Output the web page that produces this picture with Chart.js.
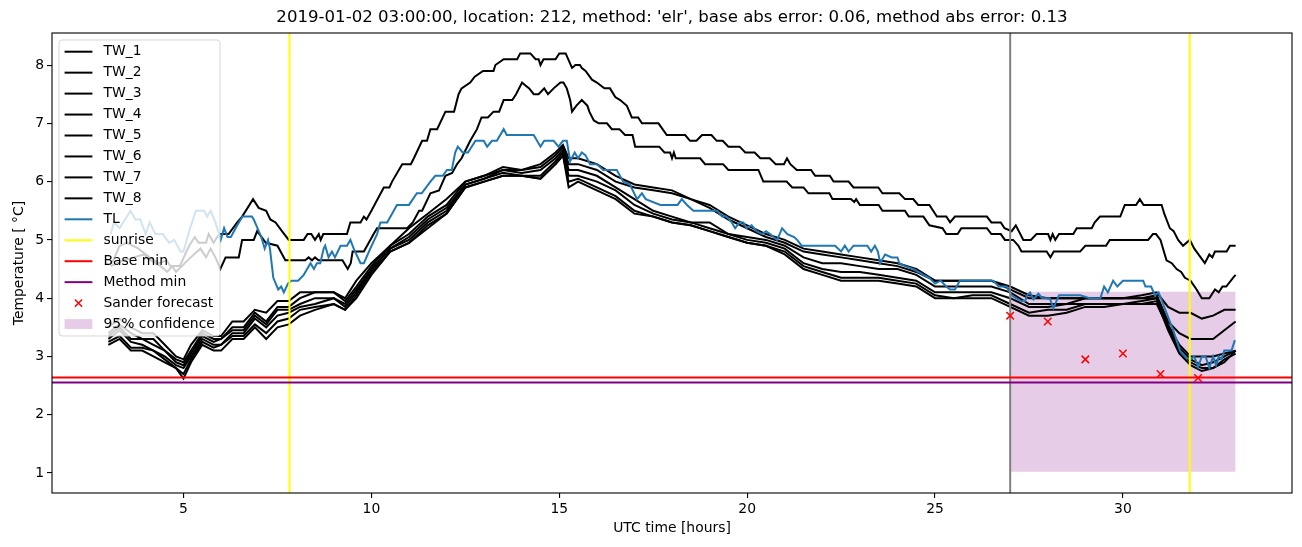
<!DOCTYPE html>
<html><head><meta charset="utf-8">
<script src="https://cdn.jsdelivr.net/npm/chart.js@4/dist/chart.umd.min.js"></script>
<style>html,body{margin:0;padding:0;background:#fff;}#wrap{width:1302px;height:547px;}</style>
</head><body><div id="wrap"><canvas id="c" width="1302" height="547"></canvas></div>
<script>
// ---------------- data ----------------
const titleText = "2019-01-02 03:00:00, location: 212, method: 'elr', base abs error: 0.06, method abs error: 0.13";
const xTicks = [5, 10, 15, 20, 25, 30];
const yTicks = [1, 2, 3, 4, 5, 6, 7, 8];
const X_MIN = 1.5, X_MAX = 34.5, Y_MIN = 0.657, Y_MAX = 8.55;

const tw1Hours = [3.1,3.3,3.5,3.8,4.1,4.35,4.55,4.65,4.9,5.15,5.3,5.4,5.6,5.67,5.8,5.95,6.2,6.43,6.56,6.85,7.0,7.2,7.31,7.45,7.62,7.8,8.2,8.3,8.4,8.5,8.6,8.65,8.72,9.35,9.44,9.71,9.8,9.87,10.0,10.33,10.48,10.55,10.82,11.05,11.13,11.35,11.48,11.57,11.75,11.97,12.2,12.32,12.4,12.63,12.75,12.97,13.25,13.3,13.52,13.88,13.96,14.23,14.37,14.45,14.5,14.58,14.9,15.0,15.17,15.34,15.43,15.55,15.6,15.7,15.87,16.0,16.2,16.35,16.49,16.62,16.8,16.93,17.1,17.2,17.64,17.86,18.35,18.48,18.65,18.8,19.05,19.19,19.35,19.5,19.8,19.95,20.2,20.35,20.6,20.76,20.98,21.06,21.15,21.32,21.7,21.81,22.2,22.3,22.7,22.83,23.49,23.6,24.05,24.2,24.42,24.55,24.85,25.05,25.3,25.4,25.53,26.38,26.5,26.75,26.85,27.04,27.15,27.35,27.55,27.7,28.01,28.07,28.13,28.2,28.3,28.68,28.77,29.17,29.25,29.39,29.93,30.05,30.35,30.45,30.55,31.03,31.1,31.25,31.35,31.47,31.6,31.78,31.9,32.18,32.3,32.38,32.45,32.76,32.85,33.0];
const tw1Temps = [4.6,4.9,4.95,4.85,4.7,4.6,4.65,4.55,4.55,4.9,5.05,4.95,4.95,5.1,4.95,5.1,5.1,5.3,5.4,5.7,5.55,5.5,5.35,5.3,5.15,5.0,5.0,5.1,5.1,5.0,5.1,5.0,5.1,5.1,5.3,5.3,5.4,5.35,5.5,5.9,5.9,6.0,6.3,6.3,6.4,6.7,6.7,6.9,6.9,7.2,7.2,7.5,7.6,7.7,7.8,7.9,7.9,8.0,8.1,8.1,8.2,8.2,8.1,8.1,8.0,8.1,8.1,8.2,8.2,7.95,8.0,8.0,7.95,7.9,7.75,7.7,7.6,7.6,7.45,7.4,7.3,7.1,7.1,7.0,7.0,6.8,6.8,6.7,6.7,6.8,6.8,6.7,6.7,6.6,6.6,6.5,6.5,6.4,6.4,6.3,6.3,6.4,6.3,6.2,6.2,6.1,6.1,6.0,6.0,5.9,5.9,5.8,5.8,5.7,5.7,5.6,5.6,5.4,5.4,5.3,5.4,5.4,5.3,5.3,5.2,5.15,5.25,5.0,5.0,5.1,5.1,5.0,5.1,5.0,5.1,5.1,5.2,5.2,5.3,5.4,5.4,5.6,5.6,5.7,5.6,5.6,5.45,5.2,5.15,5.0,4.9,5.0,4.85,4.6,4.75,4.7,4.8,4.8,4.9,4.9];

const tw2Hours = [3.06,3.4,3.68,3.94,4.12,4.39,4.57,4.7,4.8,5.19,5.45,5.6,5.72,5.85,5.98,6.12,6.47,6.56,6.87,6.96,7.19,7.5,7.71,8.24,8.33,8.42,8.5,8.59,9.23,9.37,9.45,9.5,9.8,10.06,10.15,10.95,11.1,11.27,11.35,11.57,11.8,11.97,12.15,12.28,12.4,12.63,12.81,12.93,13.1,13.25,13.4,13.52,13.75,13.85,14.01,14.1,14.2,14.32,14.45,14.6,14.7,14.85,15.03,15.11,15.2,15.29,15.34,15.45,15.6,15.75,15.8,15.92,16.05,16.27,16.4,16.6,16.75,16.95,17.02,17.66,17.8,17.95,18.0,18.05,18.1,18.75,18.88,19.36,19.5,20.3,20.43,21.05,21.2,21.5,21.63,22.19,22.27,22.76,22.85,22.9,23.0,23.5,23.6,24.2,24.3,24.69,24.85,25.2,25.3,25.6,25.7,26.38,26.5,26.75,26.86,27.08,27.22,27.3,27.97,28.07,28.16,28.86,29.0,29.55,29.65,30.67,30.8,30.88,31.0,31.16,31.3,31.43,31.55,31.65,31.8,31.96,32.1,32.3,32.45,32.55,32.65,32.75,32.93,33.0];
const tw2Temps = [4.55,4.65,4.7,4.75,4.65,4.55,4.45,4.55,4.45,4.7,4.85,4.7,4.85,4.7,4.5,4.7,4.7,5.0,5.0,5.15,4.95,4.9,4.65,4.65,4.7,4.65,4.7,4.65,4.65,4.5,4.6,4.8,4.8,5.1,5.2,5.2,5.3,5.5,5.5,5.8,5.85,6.1,6.15,6.3,6.4,6.7,6.9,7.1,7.1,7.2,7.2,7.4,7.4,7.5,7.7,7.65,7.6,7.5,7.5,7.6,7.5,7.6,7.7,7.7,7.6,7.4,7.2,7.3,7.4,7.3,7.2,7.05,7.0,7.0,6.9,6.9,6.8,6.8,6.6,6.6,6.5,6.5,6.4,6.5,6.4,6.4,6.3,6.3,6.2,6.2,6.0,6.0,5.9,5.9,5.8,5.8,5.7,5.7,5.65,5.7,5.6,5.6,5.5,5.5,5.4,5.4,5.25,5.2,5.1,5.1,5.2,5.2,5.1,5.1,5.0,5.0,4.9,4.8,4.8,4.7,4.8,4.8,4.9,4.9,5.0,5.0,5.1,5.1,5.0,4.65,4.6,4.5,4.45,4.35,4.3,4.15,4.0,4.0,4.15,4.1,4.2,4.2,4.35,4.4];

const clusterHours = [3,3.3,3.6,3.9,4.2,4.5,4.8,5.0,5.2,5.5,5.8,6.0,6.3,6.6,6.9,7.2,7.5,7.8,8.1,8.5,9.0,9.3,9.6,10.0,10.5,11.0,11.5,12.0,12.5,13.0,13.5,14.0,14.5,14.9,15.1,15.25,15.5,16.0,16.5,17.0,17.5,18.0,18.5,19.0,19.5,20.0,20.5,21.0,21.5,22.0,22.5,23.0,23.5,24.0,24.5,25.0,25.5,26.0,26.5,27.0,27.5,28.0,28.5,29.0,29.5,30.0,30.5,30.9,31.2,31.5,31.8,32.1,32.4,32.7,33.0];
const tw3Temps = [3.5,3.65,3.5,3.4,3.4,3.2,3.0,2.95,3.2,3.45, 3.35,3.35,3.6,3.6,3.8,3.75,3.95,3.95,4.1,4.1, 4.1,4.0,4.3,4.6,4.9,5.2,5.45,5.7,6.0,6.1, 6.25,6.2,6.3,6.5,6.63,6.4,6.4,6.3,6.1,5.95, 5.9,5.85,5.7,5.6,5.4,5.25,5.1,5.0,4.85,4.8, 4.75,4.7,4.65,4.6,4.5,4.3,4.3,4.3,4.3,4.2, 4.05,4.0,4.0,4.0,4.0,4.0,4.05,4.1,3.85,3.75, 3.75,3.65,3.7,3.8,3.8];
const tw4Temps = [3.4,3.55,3.4,3.3,3.3,3.1,2.95,2.9,3.1,3.4, 3.3,3.3,3.5,3.5,3.75,3.6,3.85,3.85,4.0,4.1, 4.1,3.95,4.2,4.55,4.9,5.1,5.4,5.6,6.0,6.1, 6.2,6.2,6.25,6.45,6.6,6.3,6.3,6.2,6.0,5.9, 5.85,5.8,5.7,5.55,5.35,5.2,5.05,4.95,4.8,4.75, 4.7,4.65,4.6,4.55,4.45,4.3,4.3,4.3,4.3,4.15, 4.0,4.0,4.0,4.0,4.0,4.0,4.0,4.05,3.6,3.4, 3.3,3.3,3.3,3.45,3.6];
const tw5Temps = [3.35,3.5,3.3,3.3,3.2,3.1,2.9,2.85,3.05,3.35, 3.25,3.3,3.45,3.45,3.7,3.55,3.8,3.8,3.9,4.0, 4.0,3.9,4.15,4.5,4.85,5.05,5.35,5.55,5.95,6.05, 6.2,6.15,6.2,6.4,6.55,6.2,6.2,6.1,5.9,5.7, 5.5,5.4,5.3,5.3,5.1,5.05,5.0,4.9,4.7,4.6, 4.6,4.55,4.5,4.5,4.4,4.2,4.2,4.2,4.2,4.1, 3.9,3.9,3.9,4.0,4.0,4.0,4.0,4.0,3.55,3.2, 3.0,3.0,3.0,3.05,3.1];
const tw6Temps = [3.3,3.45,3.25,3.2,3.1,3.0,2.85,2.8,3.0,3.3, 3.2,3.2,3.4,3.4,3.65,3.5,3.7,3.75,3.85,3.9, 4.0,3.85,4.1,4.5,4.85,5.0,5.3,5.5,5.95,6.05, 6.15,6.1,6.1,6.35,6.5,6.1,6.1,6.0,5.85,5.6, 5.45,5.35,5.3,5.2,5.1,5.0,4.95,4.85,4.6,4.5, 4.45,4.45,4.4,4.35,4.3,4.1,4.1,4.1,4.1,4.0, 3.85,3.85,3.9,3.9,3.9,3.9,3.95,4.0,3.5,3.1, 2.9,2.8,2.8,2.9,3.1];
const tw7Temps = [3.25,3.35,3.15,3.15,3.1,2.95,2.8,2.7,2.95,3.25, 3.15,3.2,3.35,3.35,3.55,3.4,3.6,3.65,3.8,3.85, 3.9,3.8,4.05,4.45,4.8,4.95,5.25,5.45,5.9,6.0, 6.1,6.1,6.05,6.3,6.45,6.0,6.05,5.9,5.75,5.5, 5.4,5.3,5.25,5.15,5.05,4.95,4.9,4.8,4.55,4.45, 4.35,4.35,4.35,4.3,4.25,4.05,4.0,4.05,4.05,3.9, 3.75,3.8,3.8,3.9,3.9,3.9,3.9,3.95,3.45,3.05, 2.85,2.75,2.8,2.95,3.05];
const tw8Temps = [3.2,3.3,3.1,3.1,3.0,2.9,2.8,2.62,2.9,3.2, 3.1,3.1,3.3,3.3,3.5,3.3,3.5,3.55,3.7,3.8, 3.9,3.8,4.0,4.4,4.8,4.95,5.2,5.45,5.9,6.0, 6.1,6.1,6.05,6.3,6.45,5.9,6.0,5.85,5.7,5.45, 5.4,5.3,5.25,5.15,5.05,4.95,4.9,4.75,4.5,4.4, 4.3,4.3,4.3,4.25,4.2,4.0,4.0,4.0,4.0,3.85, 3.7,3.7,3.75,3.85,3.85,3.9,3.9,3.9,3.5,3.15, 2.95,2.85,2.9,3.0,3.1];

const tlHours = [3.06,3.15,3.3,3.59,3.72,3.85,3.99,4.1,4.25,4.45,4.62,4.75,4.92,5.0,5.15,5.33,5.55,5.63,5.72,5.85,5.99,6.08,6.17,6.26,6.43,6.57,6.82,6.87,7.07,7.16,7.25,7.3,7.39,7.52,7.6,7.67,7.78,7.87,8.05,8.2,8.29,8.38,8.47,8.55,8.64,8.73,8.77,8.86,8.95,9.03,9.18,9.35,9.44,9.53,9.71,9.8,9.97,10.15,10.24,10.42,10.55,10.68,11.0,11.21,11.34,11.57,11.7,11.9,12.01,12.14,12.23,12.3,12.43,12.57,12.77,12.99,13.08,13.21,13.34,13.52,13.6,14.32,14.5,14.6,14.85,14.98,15.1,15.2,15.29,15.41,15.5,15.6,15.7,15.82,16.0,16.17,16.53,16.7,16.88,17.07,17.2,17.3,17.69,18.15,18.26,18.4,18.57,19.2,19.33,19.45,19.59,19.68,19.8,19.9,19.98,20.12,20.25,20.4,20.5,20.61,20.7,20.8,20.93,21.07,21.25,21.33,21.45,22.34,22.5,22.6,22.7,22.83,23.2,23.3,23.4,23.48,23.54,23.67,23.85,24.0,24.05,24.2,24.42,24.69,24.85,25.0,25.15,25.3,25.4,25.53,25.66,26.55,26.7,26.9,27.04,27.15,27.3,27.4,27.45,27.53,27.62,27.75,27.85,28.05,28.15,28.3,28.86,29.12,29.4,29.5,29.6,29.74,29.85,30.0,30.54,30.6,30.75,30.85,30.95,31.16,31.34,31.52,31.7,31.8,31.9,32.0,32.1,32.2,32.3,32.4,32.48,32.55,32.62,32.7,32.89,32.98];
const tlTemps = [5.1,5.3,5.2,5.5,5.35,5.35,5.1,5.3,5.1,5.1,4.95,5.0,4.8,4.8,5.15,5.5,5.5,5.4,5.5,5.3,5.0,5.2,5.05,5.05,5.25,5.4,5.4,5.35,5.05,4.85,5.0,4.85,4.35,4.15,4.2,4.1,4.25,4.3,4.3,4.4,4.5,4.6,4.5,4.6,4.6,4.85,4.9,4.7,4.8,4.7,4.9,4.9,5.0,4.85,4.6,4.6,4.85,5.1,5.3,5.3,5.45,5.6,5.6,5.8,5.8,6.0,6.1,6.1,6.2,6.2,6.5,6.6,6.5,6.5,6.7,6.7,6.6,6.7,6.7,6.9,6.8,6.8,6.6,6.7,6.7,6.6,6.7,6.7,6.35,6.5,6.4,6.5,6.45,6.3,6.3,6.2,6.2,6.0,5.95,5.7,5.8,5.7,5.6,5.6,5.7,5.6,5.5,5.5,5.4,5.4,5.3,5.2,5.3,5.3,5.2,5.25,5.15,5.1,5.15,5.1,5.05,5.0,5.2,5.1,5.05,5.0,4.9,4.9,4.8,4.9,4.8,4.9,4.9,4.8,4.9,4.8,4.6,4.75,4.7,4.7,4.6,4.55,4.5,4.4,4.35,4.25,4.3,4.2,4.15,4.15,4.3,4.3,4.2,4.2,4.05,4.0,3.95,3.95,4.05,4.1,3.98,4.08,4.0,4.0,3.83,4.05,4.05,4.0,4.0,4.2,4.1,4.3,4.2,4.3,4.3,4.2,4.2,4.05,4.1,3.75,3.45,3.1,2.97,2.95,3.0,2.82,3.0,3.0,2.8,3.0,2.85,3.0,2.95,3.1,3.1,3.28];

const sunriseHours = [7.82, 31.78];
const nowHour = 27.0;
const baseMin = 2.64;
const methodMin = 2.555;
const sanderHours = [27, 28, 29, 30, 31, 32];
const sanderTemps = [3.7, 3.6, 2.95, 3.05, 2.7, 2.63];
const confHours = [27, 33];
const confUpper = [4.11, 4.11];
const confLower = [1.02, 1.02];

// ---------------- chart ----------------
const FONT = "'DejaVu Sans', sans-serif";
Chart.defaults.font.family = FONT;
Chart.defaults.font.size = 13.9;
Chart.defaults.color = '#000';

const pts = (hs, ts) => hs.map((h, i) => ({x: h, y: ts[i]}));
const line = (label, data, color, order, extra) => Object.assign({
  label, data, borderColor: color, backgroundColor: color, borderWidth: 2,
  pointRadius: 0, pointHoverRadius: 0, showLine: true, fill: false, tension: 0, order
}, extra || {});

const datasets = [
  line('TW_1', pts(tw1Hours, tw1Temps), '#000', 4, {legendIdx: 0}),
  line('TW_2', pts(tw2Hours, tw2Temps), '#000', 4, {legendIdx: 1}),
  line('TW_3', pts(clusterHours, tw3Temps), '#000', 4, {legendIdx: 2}),
  line('TW_4', pts(clusterHours, tw4Temps), '#000', 4, {legendIdx: 3}),
  line('TW_5', pts(clusterHours, tw5Temps), '#000', 4, {legendIdx: 4}),
  line('TW_6', pts(clusterHours, tw6Temps), '#000', 4, {legendIdx: 5}),
  line('TW_7', pts(clusterHours, tw7Temps), '#000', 4, {legendIdx: 6}),
  line('TW_8', pts(clusterHours, tw8Temps), '#000', 4, {legendIdx: 7}),
  line('TL', pts(tlHours, tlTemps), '#1f77b4', 3, {legendIdx: 8}),
  line('sunrise', [{x: sunriseHours[0], y: Y_MIN}, {x: sunriseHours[0], y: Y_MAX}], '#ffff00', 2, {legendIdx: 9}),
  line('sunrise2', [{x: sunriseHours[1], y: Y_MIN}, {x: sunriseHours[1], y: Y_MAX}], '#ffff00', 2),
  line('now', [{x: nowHour, y: Y_MIN}, {x: nowHour, y: Y_MAX}], '#808080', 2),
  line('Base min', [{x: X_MIN, y: baseMin}, {x: X_MAX, y: baseMin}], '#ff0000', 1, {legendIdx: 10}),
  line('Method min', [{x: X_MIN, y: methodMin}, {x: X_MAX, y: methodMin}], '#800080', 1, {legendIdx: 11}),
  {label: 'Sander forecast', data: pts(sanderHours, sanderTemps), showLine: false, pointStyle: 'crossRot',
   pointRadius: 5.3, pointHoverRadius: 5.3, borderColor: '#ff0000', backgroundColor: '#ff0000', pointBorderWidth: 1.5, order: 0, legendIdx: 12, kind: 'marker'},
  line('confLower', pts(confHours, confLower), 'rgba(0,0,0,0)', 6, {borderWidth: 0}),
  line('95% confidence', pts(confHours, confUpper), 'rgba(0,0,0,0)', 5,
       {borderWidth: 0, fill: '-1', backgroundColor: 'rgba(128,0,128,0.2)', legendIdx: 13, kind: 'patch', patchColor: 'rgba(128,0,128,0.2)'})
];

const framePlugin = {
  id: 'frame',
  afterDatasetsDraw(chart) {
    const a = chart.chartArea, ctx = chart.ctx;
    ctx.save();
    ctx.strokeStyle = '#000'; ctx.lineWidth = 1.1;
    ctx.strokeRect(a.left, a.top, a.right - a.left, a.bottom - a.top);
    ctx.restore();
  }
};

const titlePlugin = {
  id: 'axTitle',
  afterDraw(chart) {
    const a = chart.chartArea, ctx = chart.ctx;
    ctx.save();
    ctx.font = '16.6px ' + FONT; ctx.fillStyle = '#000';
    ctx.textAlign = 'center'; ctx.textBaseline = 'middle';
    ctx.fillText(titleText, (a.left + a.right) / 2, 17.5);
    ctx.restore();
  }
};

const legendPlugin = {
  id: 'mplLegend',
  afterDraw(chart) {
    const ctx = chart.ctx, a = chart.chartArea;
    const x0 = a.left + 7, y0 = a.top + 7, w = 161, h = 296, r = 3;
    ctx.save();
    ctx.beginPath();
    ctx.moveTo(x0 + r, y0); ctx.lineTo(x0 + w - r, y0); ctx.arcTo(x0 + w, y0, x0 + w, y0 + r, r);
    ctx.lineTo(x0 + w, y0 + h - r); ctx.arcTo(x0 + w, y0 + h, x0 + w - r, y0 + h, r);
    ctx.lineTo(x0 + r, y0 + h); ctx.arcTo(x0, y0 + h, x0, y0 + h - r, r);
    ctx.lineTo(x0, y0 + r); ctx.arcTo(x0, y0, x0 + r, y0, r); ctx.closePath();
    ctx.fillStyle = 'rgba(255,255,255,0.8)'; ctx.fill();
    ctx.strokeStyle = 'rgba(204,204,204,0.8)'; ctx.lineWidth = 1; ctx.stroke();
    const items = chart.data.datasets.filter(d => d.legendIdx !== undefined).sort((p, q) => p.legendIdx - q.legendIdx);
    const hx0 = x0 + 5.6, hx1 = x0 + 33.4, tx = x0 + 44.5;
    ctx.font = '13.9px ' + FONT; ctx.textBaseline = 'middle'; ctx.textAlign = 'left';
    items.forEach((d, i) => {
      const cy = y0 + 11.7 + i * 20.95;
      if (d.kind === 'marker') {
        const cx = (hx0 + hx1) / 2, s = 3.6;
        ctx.strokeStyle = d.borderColor; ctx.lineWidth = 1.5;
        ctx.beginPath(); ctx.moveTo(cx - s, cy - s); ctx.lineTo(cx + s, cy + s);
        ctx.moveTo(cx - s, cy + s); ctx.lineTo(cx + s, cy - s); ctx.stroke();
      } else if (d.kind === 'patch') {
        ctx.fillStyle = d.patchColor; ctx.fillRect(hx0, cy - 4.9, hx1 - hx0, 9.8);
      } else {
        ctx.strokeStyle = d.borderColor; ctx.lineWidth = 2;
        ctx.beginPath(); ctx.moveTo(hx0, cy); ctx.lineTo(hx1, cy); ctx.stroke();
      }
      ctx.fillStyle = '#000'; ctx.fillText(d.label, tx, cy);
    });
    ctx.restore();
  }
};

new Chart(document.getElementById('c'), {
  type: 'scatter',
  data: {datasets},
  options: {
    responsive: false, animation: false, events: [],
    layout: {padding: {left: 0, right: 10, top: 33, bottom: 0}},
    plugins: {legend: {display: false}, tooltip: {enabled: false}, title: {display: false}},
    scales: {
      x: {
        type: 'linear', min: X_MIN, max: X_MAX,
        afterBuildTicks: s => { s.ticks = xTicks.map(v => ({value: v})); },
        afterFit: s => { s.height = 54; },
        ticks: {color: '#000', padding: 3, maxRotation: 0, font: {size: 13.9}},
        grid: {drawOnChartArea: false, drawTicks: true, tickLength: 5, color: '#000', lineWidth: 1.1},
        border: {display: false},
        title: {display: true, text: 'UTC time [hours]', color: '#000', font: {size: 13.9}, padding: {top: 0, bottom: 10}}
      },
      y: {
        type: 'linear', min: Y_MIN, max: Y_MAX,
        afterBuildTicks: s => { s.ticks = yTicks.map(v => ({value: v})); },
        afterFit: s => { s.width = 52; },
        ticks: {color: '#000', padding: 3, font: {size: 13.9}},
        grid: {drawOnChartArea: false, drawTicks: true, tickLength: 5, color: '#000', lineWidth: 1.1},
        border: {display: false},
        title: {display: true, text: 'Temperature [ °C]', color: '#000', font: {size: 13.9}, padding: {top: 11, bottom: 0}}
      }
    }
  },
  plugins: [framePlugin, legendPlugin, titlePlugin]
});
</script></body></html>
